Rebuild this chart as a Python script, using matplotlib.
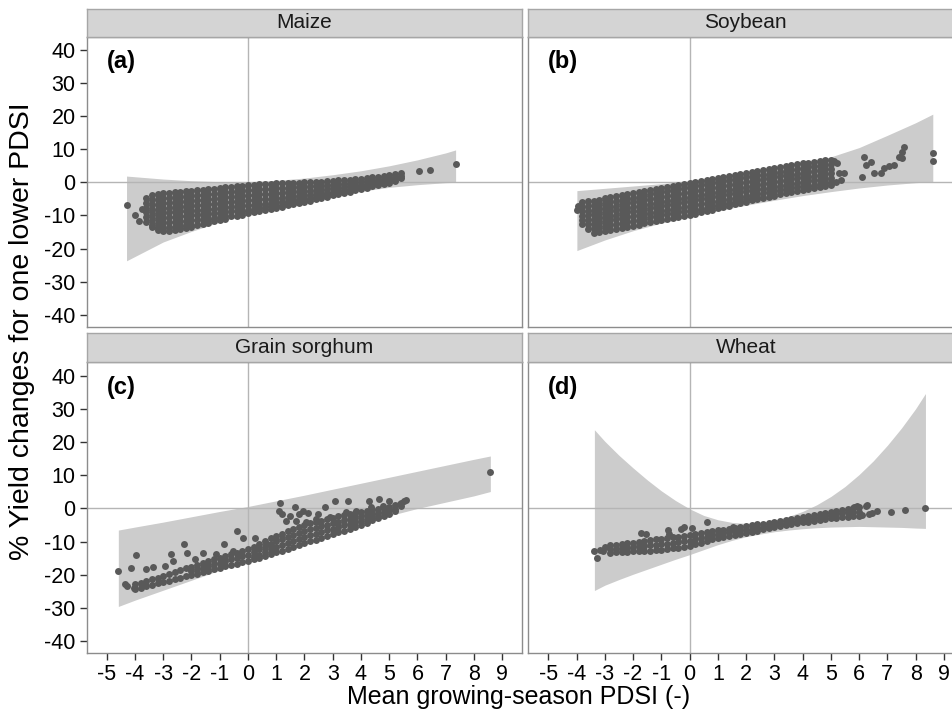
import matplotlib
matplotlib.use("Agg")
import matplotlib.pyplot as plt

plt.rcParams["font.family"] = ["Liberation Sans", "DejaVu Sans"]

crops = ["Maize", "Soybean", "Grain sorghum", "Wheat"]
tags = ["(a)", "(b)", "(c)", "(d)"]
x_ticks = [-5, -4, -3, -2, -1, 0, 1, 2, 3, 4, 5, 6, 7, 8, 9]
y_ticks = [-40, -30, -20, -10, 0, 10, 20, 30, 40]

# confidence ribbons (x, lower, upper)
maize_rx = [-4.30, -3, -2, -1, 0, 1, 2, 3, 4, 5, 6, 7, 7.35]
maize_lo = [-23.7, -18.0, -14.8, -12.0, -9.6, -7.5, -5.7, -4.1, -2.7, -1.5, -0.7, -0.1, 0.0]
maize_hi = [1.9, 1.0, 0.5, 0.2, 0.2, 0.6, 1.3, 2.3, 3.5, 5.0, 6.8, 8.9, 9.8]

soy_rx = [-3.99, -3, -2, -1, 0, 1, 2, 3, 4, 5, 6, 7, 8, 8.61]
soy_lo = [-20.6, -17.4, -14.6, -12.3, -10.4, -8.6, -6.9, -5.4, -4.0, -2.8, -1.7, -0.8, -0.1, 0.2]
soy_hi = [-2.5, -1.8, -1.1, -0.4, 0.4, 1.4, 2.6, 4.0, 5.7, 7.7, 10.5, 14.2, 18.0, 20.6]

sorg_rx = [-4.59, -4, -3, -2, -1, 0, 1, 2, 3, 4, 5, 6, 7, 8, 8.58]
sorg_lo = [-29.5, -27.6, -24.6, -21.6, -18.6, -15.7, -12.7, -9.8, -7.0, -4.6, -2.2, 0.0, 1.9, 3.8, 5.1]
sorg_hi = [-6.5, -5.6, -4.1, -2.5, -0.9, 0.6, 2.3, 4.0, 5.8, 7.6, 9.4, 11.2, 13.0, 14.8, 15.8]

wheat_rx = [-3.37, -3, -2.5, -2, -1.5, -1, -0.5, 0, 0.5, 1, 1.5, 2, 2.5, 3, 3.5,
            4, 4.5, 5, 5.5, 6, 6.5, 7, 7.5, 8, 8.35]
wheat_lo = [-24.7, -23.1, -21.4, -19.8, -18.3, -16.8, -15.3, -13.9, -12.4, -10.9, -9.6,
            -8.5, -7.7, -7.0, -6.5, -6.1, -5.8, -5.6, -5.5, -5.4, -5.5, -5.6, -5.7, -5.9, -6.0]
wheat_hi = [23.7, 20.2, 16.0, 12.2, 8.6, 5.3, 2.4, -0.1, -2.1, -3.4, -4.2, -4.5, -4.3,
            -3.6, -2.4, -0.9, 1.1, 3.6, 6.6, 10.2, 14.3, 19.0, 24.2, 30.0, 34.6]

# county points, written as columns (x, [y values]) plus loose points
maize_cols = [
    (-3.6, [-4.6, -6.1, -7.6, -9.1, -10.6, -12.0]),
    (-3.4, [-3.9, -5.4, -6.9, -8.4, -9.9, -11.4, -12.9, -13.6]),
    (-3.2, [-3.4, -4.9, -6.4, -7.9, -9.4, -10.9, -12.4, -13.9, -14.5]),
    (-3.0, [-3.3, -4.8, -6.3, -7.8, -9.3, -10.8, -12.3, -13.8, -14.7]),
    (-2.8, [-3.1, -4.6, -6.1, -7.6, -9.1, -10.6, -12.1, -13.6, -14.6]),
    (-2.6, [-3.0, -4.5, -6.0, -7.5, -9.0, -10.5, -12.0, -13.5, -14.5]),
    (-2.4, [-2.8, -4.3, -5.8, -7.3, -8.8, -10.3, -11.8, -13.3, -14.1]),
    (-2.2, [-2.6, -4.1, -5.6, -7.1, -8.6, -10.1, -11.6, -13.0, -13.7]),
    (-2.0, [-2.5, -4.0, -5.5, -7.0, -8.5, -10.0, -11.5, -12.9, -13.4]),
    (-1.8, [-2.3, -3.8, -5.3, -6.8, -8.3, -9.8, -11.3, -12.8]),
    (-1.6, [-2.2, -3.7, -5.2, -6.7, -8.2, -9.7, -11.2, -12.6]),
    (-1.4, [-2.0, -3.5, -5.0, -6.5, -8.0, -9.5, -11.0, -12.2]),
    (-1.2, [-1.9, -3.4, -4.9, -6.4, -7.9, -9.4, -10.8, -11.8]),
    (-1.0, [-1.7, -3.2, -4.7, -6.2, -7.7, -9.2, -10.6, -11.4]),
    (-0.8, [-1.5, -3.0, -4.5, -6.0, -7.5, -9.0, -10.3, -11.0]),
    (-0.6, [-1.3, -2.8, -4.3, -5.8, -7.3, -8.8, -10.2]),
    (-0.4, [-1.2, -2.7, -4.2, -5.7, -7.2, -8.7, -10.2]),
    (-0.2, [-1.0, -2.5, -4.0, -5.5, -7.0, -8.5, -9.8]),
    (0.0, [-0.8, -2.3, -3.8, -5.3, -6.8, -8.3, -9.4]),
    (0.2, [-0.7, -2.2, -3.7, -5.2, -6.7, -8.0, -9.0]),
    (0.4, [-0.6, -2.1, -3.6, -5.1, -6.6, -7.8, -8.7]),
    (0.6, [-0.5, -2.0, -3.5, -5.0, -6.4, -7.5, -8.3]),
    (0.8, [-0.4, -1.9, -3.4, -4.9, -6.2, -7.2, -8.0]),
    (1.0, [-0.3, -1.8, -3.3, -4.7, -6.0, -7.0, -7.6]),
    (1.2, [-0.2, -1.7, -3.2, -4.6, -5.8, -6.7, -7.3]),
    (1.4, [-0.2, -1.6, -3.0, -4.4, -5.6, -6.4, -6.9]),
    (1.6, [-0.1, -1.5, -2.9, -4.2, -5.4, -6.2, -6.6]),
    (1.8, [-0.1, -1.4, -2.7, -4.0, -5.1, -5.8, -6.2]),
    (2.0, [0.0, -1.3, -2.6, -3.8, -4.9, -5.6, -5.9]),
    (2.2, [0.1, -1.2, -2.5, -3.7, -4.7, -5.5]),
    (2.4, [0.1, -1.1, -2.3, -3.5, -4.4, -5.1]),
    (2.6, [0.2, -1.0, -2.2, -3.3, -4.2, -4.7]),
    (2.8, [0.3, -0.9, -2.0, -3.1, -3.9, -4.3]),
    (3.0, [0.5, -0.7, -1.8, -2.8, -3.5, -3.9]),
    (3.2, [0.6, -0.5, -1.6, -2.5, -3.1, -3.5]),
    (3.4, [0.7, -0.4, -1.4, -2.2, -2.8, -3.1]),
    (3.6, [0.8, -0.2, -1.2, -2.0, -2.8]),
    (3.8, [1.0, 0.0, -0.9, -1.7, -2.4]),
    (4.0, [1.1, 0.2, -0.7, -1.4, -2.0]),
    (4.2, [1.3, 0.4, -0.4, -1.1, -1.6]),
    (4.4, [1.5, 0.6, -0.2, -0.8, -1.2]),
    (4.6, [1.7, 0.8, 0.0, -0.5, -0.9]),
    (4.8, [1.9, 1.1, 0.3, -0.5]),
    (5.0, [2.2, 1.4, 0.6, -0.1]),
    (5.2, [2.4, 1.6, 0.9, 0.5]),
    (5.4, [2.7, 2.0, 1.4]),
]
maize_extra = [(-4.30, -6.8), (-4.01, -9.9), (-3.86, -11.6), (-3.75, -8.0),
               (6.07, 3.4), (6.43, 3.7), (7.35, 5.6)]

soy_cols = [
    (-3.8, [-5.9, -7.3, -8.7, -10.1, -11.5, -12.6]),
    (-3.6, [-5.7, -7.1, -8.5, -9.9, -11.3, -12.7, -14.0]),
    (-3.4, [-5.5, -6.9, -8.3, -9.7, -11.1, -12.5, -13.9, -15.3]),
    (-3.2, [-5.3, -6.7, -8.1, -9.5, -10.9, -12.3, -13.7, -15.0]),
    (-3.0, [-4.8, -6.2, -7.6, -9.0, -10.4, -11.8, -13.2, -14.6]),
    (-2.8, [-4.5, -5.9, -7.3, -8.7, -10.1, -11.5, -12.9, -14.3]),
    (-2.6, [-4.2, -5.6, -7.0, -8.4, -9.8, -11.2, -12.6, -14.0]),
    (-2.4, [-3.8, -5.2, -6.6, -8.0, -9.4, -10.8, -12.2, -13.7]),
    (-2.2, [-3.5, -4.9, -6.3, -7.7, -9.1, -10.5, -11.9, -13.4]),
    (-2.0, [-3.2, -4.6, -6.0, -7.4, -8.8, -10.2, -11.6, -13.1]),
    (-1.8, [-2.9, -4.3, -5.7, -7.1, -8.5, -9.9, -11.3, -12.8]),
    (-1.6, [-2.6, -4.0, -5.4, -6.8, -8.2, -9.6, -11.0, -12.4]),
    (-1.4, [-2.2, -3.6, -5.0, -6.4, -7.8, -9.2, -10.6, -12.0]),
    (-1.2, [-1.9, -3.3, -4.7, -6.1, -7.5, -8.9, -10.3, -11.7]),
    (-1.0, [-1.6, -3.0, -4.4, -5.8, -7.2, -8.6, -10.0, -11.4]),
    (-0.8, [-1.3, -2.7, -4.1, -5.5, -6.9, -8.3, -9.7, -11.1]),
    (-0.6, [-1.0, -2.4, -3.8, -5.2, -6.6, -8.0, -9.4, -10.8]),
    (-0.4, [-0.7, -2.1, -3.5, -4.9, -6.3, -7.7, -9.1, -10.4]),
    (-0.2, [-0.4, -1.8, -3.2, -4.6, -6.0, -7.4, -8.8, -10.1]),
    (0.0, [-0.1, -1.5, -2.9, -4.3, -5.7, -7.1, -8.5, -9.8]),
    (0.2, [0.2, -1.2, -2.6, -4.0, -5.4, -6.8, -8.2, -9.5]),
    (0.4, [0.5, -0.9, -2.3, -3.7, -5.1, -6.5, -7.9, -9.1]),
    (0.6, [0.8, -0.6, -2.0, -3.4, -4.8, -6.2, -7.6, -8.7]),
    (0.8, [1.1, -0.3, -1.7, -3.1, -4.5, -5.9, -7.2, -8.2]),
    (1.0, [1.4, 0.0, -1.4, -2.8, -4.2, -5.6, -6.9, -7.8]),
    (1.2, [1.7, 0.3, -1.1, -2.5, -3.9, -5.3, -6.5, -7.4]),
    (1.4, [2.0, 0.6, -0.8, -2.2, -3.6, -5.0, -6.2, -7.0]),
    (1.6, [2.3, 0.9, -0.5, -1.9, -3.3, -4.7, -5.8, -6.6]),
    (1.8, [2.6, 1.2, -0.2, -1.6, -3.0, -4.4, -5.5, -6.2]),
    (2.0, [2.9, 1.5, 0.1, -1.3, -2.7, -4.1, -5.1, -5.8]),
    (2.2, [3.2, 1.8, 0.4, -1.0, -2.4, -3.8, -4.8, -5.4]),
    (2.4, [3.5, 2.1, 0.7, -0.7, -2.1, -3.5, -4.5, -5.1]),
    (2.6, [3.7, 2.3, 0.9, -0.5, -1.9, -3.3, -4.7]),
    (2.8, [4.0, 2.6, 1.2, -0.2, -1.6, -3.0, -4.3]),
    (3.0, [4.3, 2.9, 1.5, 0.1, -1.3, -2.7, -4.0]),
    (3.2, [4.6, 3.2, 1.8, 0.4, -1.0, -2.4, -3.6]),
    (3.4, [4.9, 3.5, 2.1, 0.7, -0.7, -2.1, -3.2]),
    (3.6, [5.1, 3.7, 2.3, 0.9, -0.5, -1.8, -2.9]),
    (3.8, [5.4, 4.0, 2.6, 1.2, -0.2, -1.5, -2.6]),
    (4.0, [5.7, 4.3, 2.9, 1.5, 0.1, -1.2, -2.3]),
    (4.2, [5.9, 4.5, 3.1, 1.7, 0.3, -1.0, -2.0]),
    (4.4, [6.2, 4.8, 3.4, 2.0, 0.6, -0.7, -1.6]),
    (4.6, [6.4, 5.0, 3.6, 2.2, 0.8, -0.5, -1.4]),
    (4.8, [6.7, 5.3, 3.9, 2.5, 1.1, -0.2, -1.1]),
    (5.0, [6.9, 5.5, 4.1, 2.7, 1.3, 0.0, -0.8]),
]
soy_extra = [(-3.99, -8.2), (-3.95, -7.0), (5.11, 6.5), (5.23, 5.7), (5.17, 0.2),
             (5.29, 2.7), (5.35, 0.7), (5.47, 2.9), (6.12, 1.7), (6.17, 7.8),
             (6.23, 5.3), (6.41, 6.3), (6.53, 2.7), (6.76, 2.9), (6.88, 4.2),
             (7.06, 5.0), (7.24, 5.2), (7.41, 7.8), (7.51, 9.3), (7.53, 7.3),
             (7.59, 10.8), (8.61, 8.8), (8.61, 6.4)]

sorg_cols = [
    (-4.0, [-22.8, -24.2]),
    (-3.8, [-22.3, -23.9]),
    (-3.6, [-21.8, -23.4]),
    (-3.4, [-21.3, -22.9]),
    (-3.2, [-20.8, -22.4]),
    (-3.0, [-20.3, -22.1]),
    (-2.8, [-19.7, -21.7]),
    (-2.6, [-19.2, -21.2]),
    (-2.4, [-18.6, -20.8]),
    (-2.2, [-18.0, -20.4]),
    (-2.0, [-17.5, -18.8, -20.0]),
    (-1.8, [-17.0, -18.3, -19.6]),
    (-1.6, [-16.4, -17.8, -19.2]),
    (-1.4, [-15.9, -17.3, -18.7]),
    (-1.2, [-15.3, -16.8, -18.3]),
    (-1.0, [-14.8, -16.3, -17.9]),
    (-0.8, [-14.3, -15.8, -17.4]),
    (-0.6, [-13.8, -15.3, -17.0]),
    (-0.4, [-13.3, -14.9, -16.6]),
    (-0.2, [-12.8, -14.4, -16.2]),
    (0.0, [-12.3, -14.0, -15.8]),
    (0.2, [-11.5, -13.1, -14.7, -15.3]),
    (0.4, [-10.7, -12.3, -13.9, -14.8]),
    (0.6, [-9.9, -11.5, -13.1, -14.2]),
    (0.8, [-9.0, -10.7, -12.3, -13.7]),
    (1.0, [-8.2, -9.8, -11.5, -13.2]),
    (1.2, [-7.6, -9.2, -10.9, -12.7]),
    (1.4, [-6.9, -8.6, -10.4, -12.1]),
    (1.6, [-6.3, -8.0, -9.8, -11.6]),
    (1.8, [-5.6, -7.4, -9.2, -11.0]),
    (2.0, [-5.0, -6.8, -8.7, -10.5]),
    (2.2, [-4.5, -6.3, -8.1, -9.9]),
    (2.4, [-4.1, -5.8, -7.6, -9.4]),
    (2.6, [-3.7, -5.4, -7.1, -8.9]),
    (2.8, [-3.2, -4.9, -6.6, -8.3]),
    (3.0, [-2.8, -4.5, -6.2, -7.8]),
    (3.2, [-2.4, -4.0, -5.6, -7.2]),
    (3.4, [-2.1, -3.6, -5.1, -6.7]),
    (3.6, [-1.7, -3.2, -4.7, -6.1]),
    (3.8, [-1.4, -2.8, -4.2, -5.6]),
    (4.0, [-1.0, -2.4, -3.7, -5.0]),
    (4.2, [-0.7, -2.0, -3.3, -4.3]),
    (4.4, [-0.4, -1.7, -2.9, -3.6]),
    (4.6, [-0.1, -1.3, -2.3, -3.0]),
    (4.8, [0.2, -1.0, -2.2]),
    (5.0, [0.5, -0.6, -1.6]),
    (5.2, [1.0, -0.2, -0.8]),
    (5.4, [1.7, 0.6]),
    (5.6, [2.4]),
]
sorg_extra = [(-4.59, -18.8), (-4.36, -22.6), (-4.28, -23.4), (-4.13, -17.8),
              (-4.04, -23.9), (-3.97, -14.0), (-3.60, -18.3), (-3.36, -17.6),
              (-2.95, -17.3), (-2.74, -13.6), (-2.65, -15.8), (-2.26, -10.8),
              (-2.16, -13.3), (-1.89, -15.3), (-1.59, -13.3), (-1.12, -13.8),
              (-0.85, -10.8), (-0.53, -12.8), (-0.40, -6.7), (-0.18, -9.0),
              (0.26, -8.8), (0.65, -10.8), (1.14, 1.5), (1.10, -0.7), (1.21, -1.7),
              (1.36, -3.7), (1.47, -2.2), (1.65, 0.3), (1.71, -3.7), (1.80, -1.7),
              (1.95, -0.7), (2.06, -4.2), (2.12, -1.5), (2.42, -3.2), (2.48, -1.7),
              (2.71, 0.5), (2.89, -2.7), (3.09, 2.1), (3.48, -1.2), (3.54, 2.3),
              (3.83, -0.7), (4.30, 2.1), (4.36, 0.5), (4.63, 2.8), (4.78, 0.8),
              (4.99, 2.3), (5.37, 1.3), (5.54, 2.1), (8.58, 11.0)]

wheat_cols = [
    (-2.8, [-11.0, -12.2, -13.3]),
    (-2.6, [-10.9, -12.1, -13.2]),
    (-2.4, [-10.7, -12.0, -13.1]),
    (-2.2, [-10.5, -11.8, -13.0]),
    (-2.0, [-10.3, -11.6, -12.9]),
    (-1.8, [-10.1, -11.4, -12.8]),
    (-1.6, [-9.8, -11.2, -12.7]),
    (-1.4, [-9.6, -11.0, -12.7]),
    (-1.2, [-9.3, -10.9, -12.6]),
    (-1.0, [-9.1, -10.8, -12.5]),
    (-0.8, [-8.9, -10.6, -12.3]),
    (-0.6, [-8.7, -10.3, -12.0]),
    (-0.4, [-8.5, -10.0, -11.8]),
    (-0.2, [-8.3, -9.8, -11.6]),
    (0.0, [-8.1, -9.7, -11.4]),
    (0.2, [-7.8, -9.2, -10.8]),
    (0.4, [-7.5, -8.8, -10.3]),
    (0.6, [-7.2, -8.5, -9.8]),
    (0.8, [-6.9, -8.1, -9.3]),
    (1.0, [-6.6, -7.7, -8.8]),
    (1.2, [-6.4, -7.4, -8.5]),
    (1.4, [-6.1, -7.2, -8.2]),
    (1.6, [-5.9, -6.9, -7.9]),
    (1.8, [-5.6, -6.6, -7.6]),
    (2.0, [-5.4, -6.4, -7.4]),
    (2.2, [-5.1, -6.1, -7.0]),
    (2.4, [-4.8, -5.8, -6.7]),
    (2.6, [-4.6, -5.5, -6.3]),
    (2.8, [-4.3, -5.2, -6.0]),
    (3.0, [-4.0, -4.8, -5.6]),
    (3.2, [-3.7, -4.6, -5.3]),
    (3.4, [-3.4, -4.3, -5.0]),
    (3.6, [-3.2, -4.0, -4.8]),
    (3.8, [-2.9, -3.7, -4.5]),
    (4.0, [-2.6, -3.4, -4.2]),
    (4.2, [-2.3, -3.1, -4.0]),
    (4.4, [-1.9, -2.8, -3.7]),
    (4.6, [-1.6, -2.5, -3.4]),
    (4.8, [-1.3, -2.2, -3.2]),
    (5.0, [-1.0, -2.0, -3.0]),
    (5.2, [-0.7, -1.7, -2.8]),
    (5.4, [-0.4, -1.5, -2.6]),
    (5.6, [-0.1, -1.2, -2.5]),
    (5.8, [0.2, -1.0, -2.4]),
    (6.0, [0.5, -1.0, -2.3]),
]
wheat_extra = [(-3.37, -12.8), (-3.27, -14.9), (-3.17, -12.6), (-3.05, -12.8),
               (-2.99, -11.6), (-1.72, -7.3), (-1.54, -7.6), (-0.78, -6.5),
               (-0.72, -7.6), (-0.30, -6.3), (-0.19, -5.5), (0.07, -6.0),
               (0.60, -4.2), (1.52, -5.5), (5.82, 0.5), (5.94, 0.7), (6.11, -2.0),
               (6.23, 0.7), (6.29, 1.0), (6.35, -1.7), (6.47, -1.5), (6.64, -0.8),
               (7.12, -1.0), (7.62, -0.5), (8.35, 0.0)]

ribbons = [(maize_rx, maize_lo, maize_hi), (soy_rx, soy_lo, soy_hi),
           (sorg_rx, sorg_lo, sorg_hi), (wheat_rx, wheat_lo, wheat_hi)]
points = [(maize_cols, maize_extra), (soy_cols, soy_extra),
          (sorg_cols, sorg_extra), (wheat_cols, wheat_extra)]


def flatten(cols, extra):
    xs, ys = [], []
    for x, col in cols:
        xs += [x] * len(col)
        ys += col
    for x, y in extra:
        xs.append(x)
        ys.append(y)
    return xs, ys


W, H = 953, 714
# panel boxes in pixels; the strip sits on top of each panel
lefts = [86.7, 528.3]
widths = 435.0
tops = [36.7, 362.3]
heights = [290.0, 291.0]
strip_h = [27.7, 29.0]

fig = plt.figure(figsize=(W / 100, H / 100), dpi=100)

for i, crop in enumerate(crops):
    r, c = divmod(i, 2)
    l, t, h = lefts[c], tops[r], heights[r]
    ax = fig.add_axes([l / W, 1 - (t + h) / H, widths / W, h / H])
    sax = fig.add_axes([l / W, 1 - t / H, widths / W, strip_h[r] / H])

    rx, lo, hi = ribbons[i]
    ax.fill_between(rx, lo, hi, color="#cccccc", lw=0, zorder=1)
    ax.axhline(0, color="#b5b5b5", lw=1.0, zorder=2)
    ax.axvline(0, color="#b5b5b5", lw=1.0, zorder=2)
    xs, ys = flatten(*points[i])
    ax.scatter(xs, ys, s=25, color="#595959", lw=0, zorder=3)
    ax.text(-5.0, 36.4, tags[i], fontsize=17, fontweight="bold",
            ha="left", va="center", zorder=4)

    ax.set_xlim(-5.71, 9.69)
    ax.set_ylim(-43.6, 44.0)
    ax.set_xticks(x_ticks)
    ax.set_yticks(y_ticks)
    ax.set_xticklabels([str(v) for v in x_ticks])
    ax.set_yticklabels([str(v) for v in y_ticks])
    ax.tick_params(direction="out", length=5, width=1, color="#333333",
                   labelsize=15.5, pad=3)
    if r == 0:
        ax.tick_params(axis="x", bottom=False, labelbottom=False)
    if c == 1:
        ax.tick_params(axis="y", left=False, labelleft=False)
    for sp in ax.spines.values():
        sp.set_color("#8c8c8c")
        sp.set_linewidth(1.0)

    sax.set_facecolor("#d4d4d4")
    sax.set_xticks([])
    sax.set_yticks([])
    for sp in sax.spines.values():
        sp.set_color("#a6a6a6")
        sp.set_linewidth(1.0)
    sax.text(0.5, 0.5, crop, fontsize=15, ha="center", va="center",
             color="#1a1a1a", transform=sax.transAxes)

fig.text(22 / W, 0.536, "% Yield changes for one lower PDSI", rotation=90,
         fontsize=20.5, ha="center", va="center")
fig.text(519 / W, 1 - 697 / H, "Mean growing-season PDSI (-)",
         fontsize=18, ha="center", va="center")

fig.savefig("out.png", dpi=100, facecolor="white")
